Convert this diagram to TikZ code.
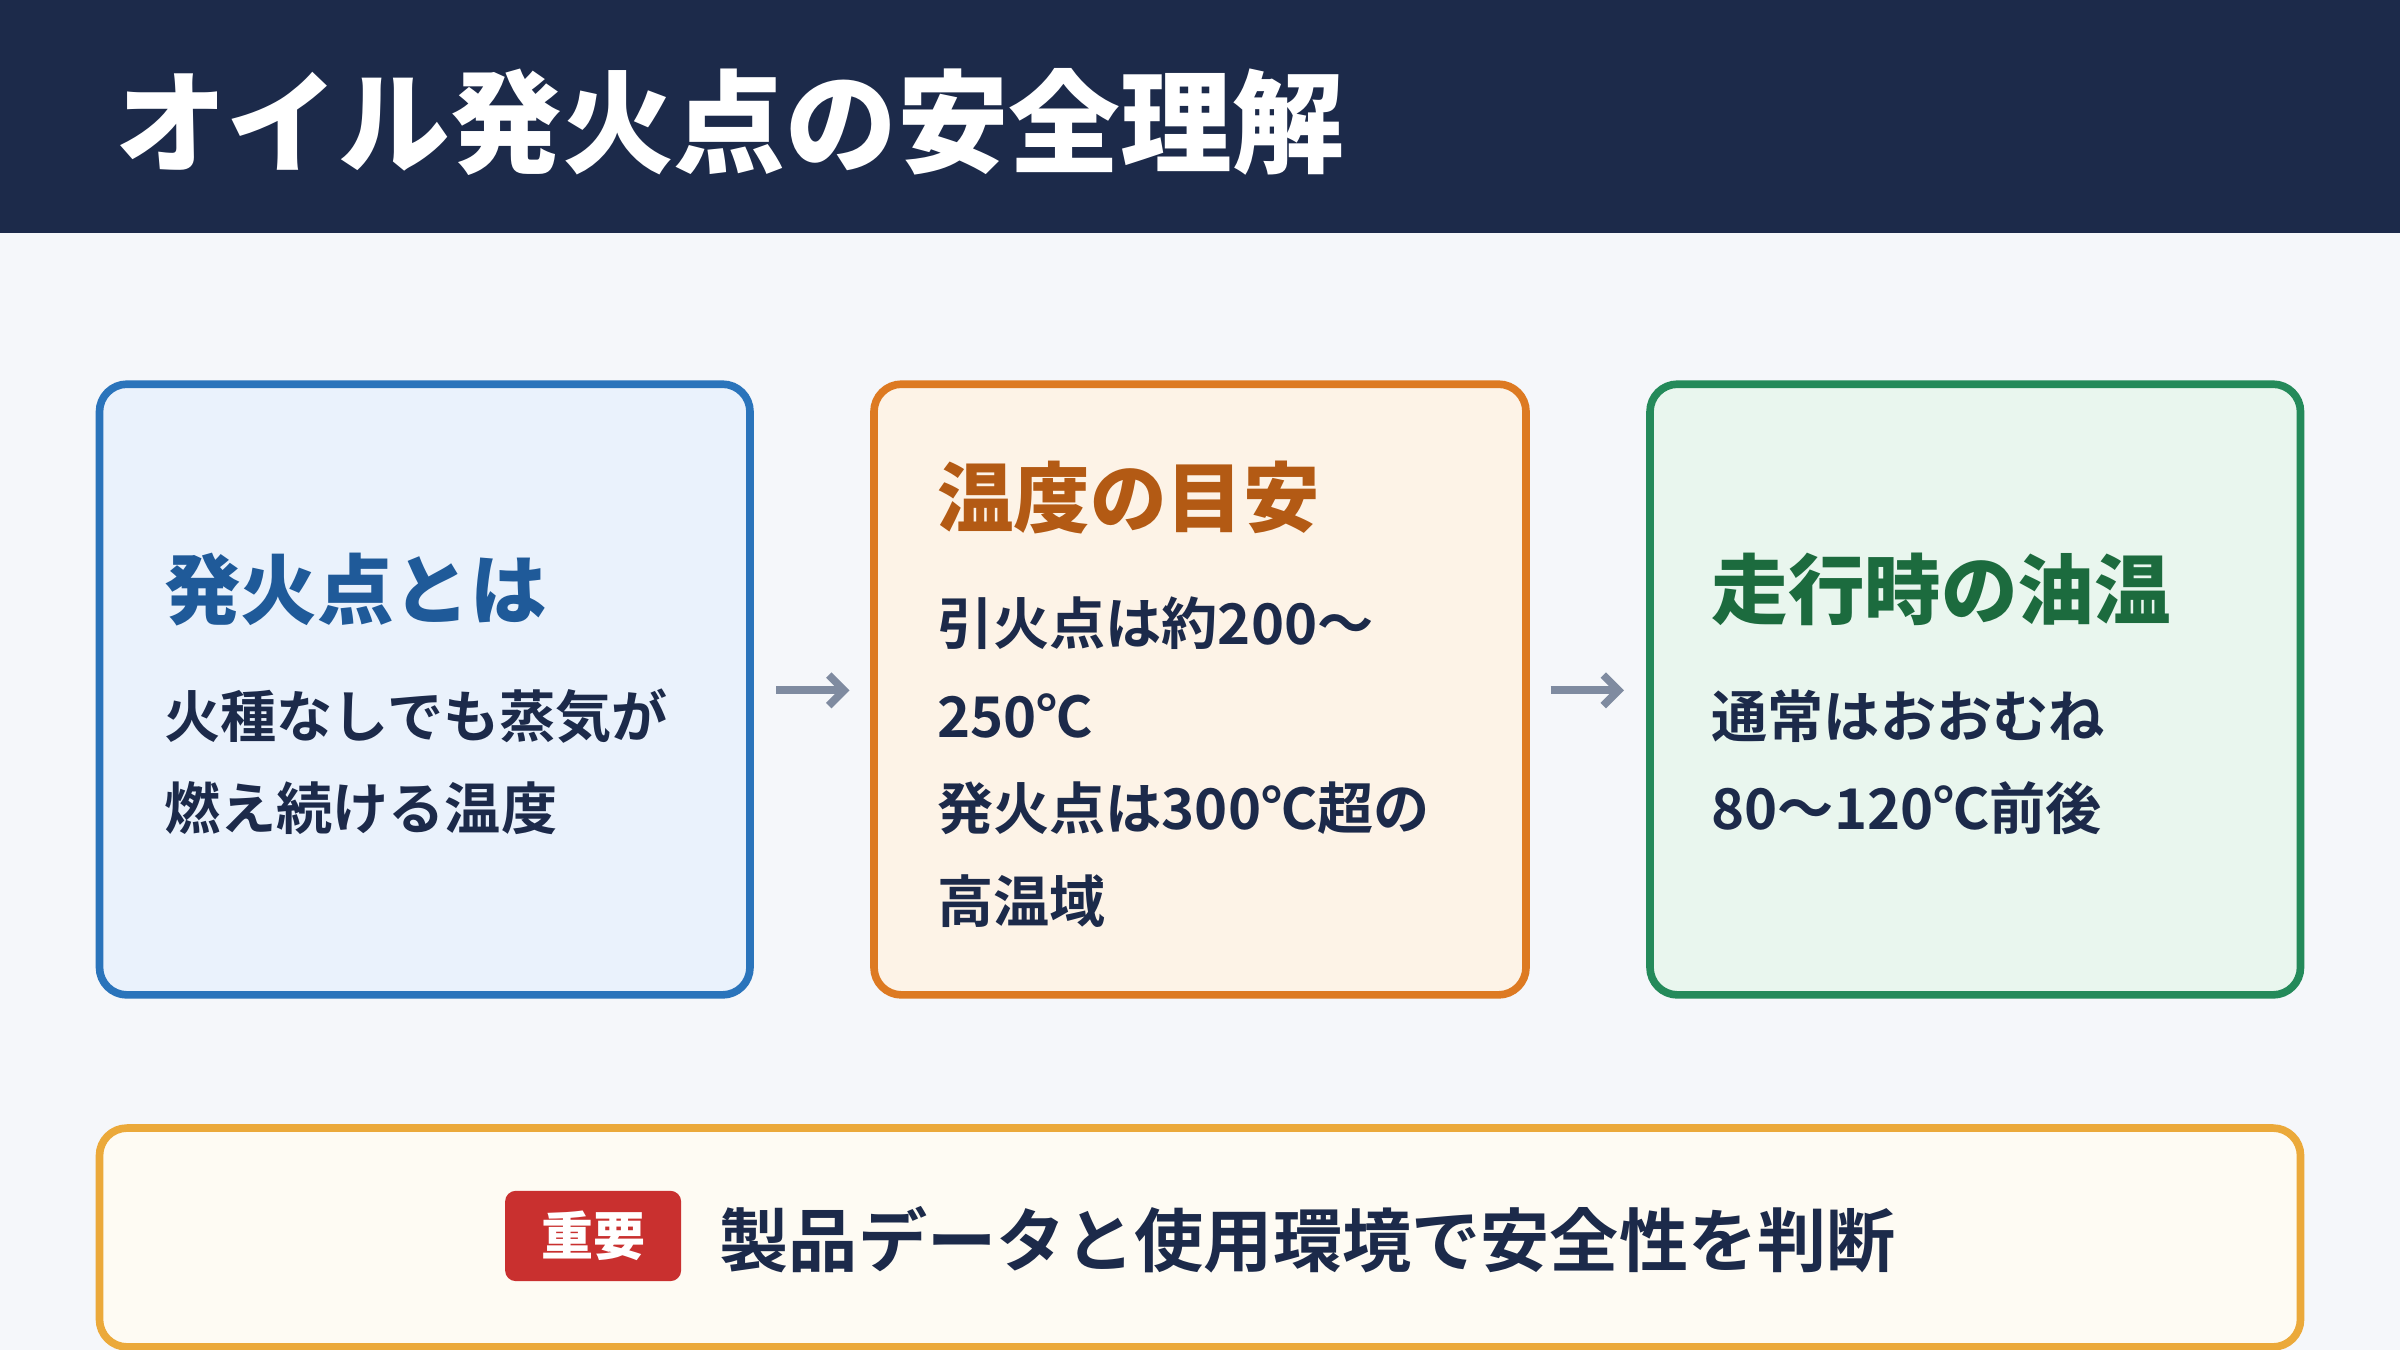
\documentclass[tikz,border=0pt]{standalone}
\usepackage{fontspec}
\setmainfont{Noto Sans CJK JP}[BoldFont={Noto Sans CJK JP Bold}]
\newfontfamily\blackfont{Noto Sans CJK JP Black}
\begin{document}
\begin{tikzpicture}[x=1pt,y=-1pt,
  box/.style={rounded corners=18pt,line width=5pt},
  head/.style={anchor=west,inner sep=0,font=\fontsize{50}{56}\blackfont},
  body/.style={anchor=west,inner sep=0,text=navy,font=\fontsize{36.7}{42}\selectfont\bfseries},
  arr/.style={line width=5pt,draw=arrgray,-{Straight Barb[length=10pt,width=20pt]}}]
\usetikzlibrary{arrows.meta}
\definecolor{navy}{HTML}{1C2A4A}
\definecolor{bg}{HTML}{F5F7FA}
\definecolor{arrgray}{HTML}{7F8BA0}
\useasboundingbox (0,0) rectangle (1568,882);
\fill[bg] (0,0) rectangle (1568,882);
\fill[navy] (0,0) rectangle (1568,152);
\node[anchor=west,inner sep=0,text=white,font=\fontsize{73}{80}\blackfont] (title) at (75,80) {オイル発火点の安全理解};
% boxes
\draw[box,draw={rgb,255:red,42;green,116;blue,187},fill={rgb,255:red,234;green,242;blue,252}] (65,251) rectangle (490,650);
\node[head,text={rgb,255:red,31;green,90;blue,153}] (h1) at (107,385) {発火点とは};
\node[body] (t11) at (107,468) {火種なしでも蒸気が};
\node[body] (t12) at (107,528) {燃え続ける温度};
\draw[box,draw={rgb,255:red,221;green,122;blue,34},fill={rgb,255:red,253;green,243;blue,231}] (571,251) rectangle (997,650);
\node[head,text={rgb,255:red,179;green,90;blue,20}] (h2) at (612,325) {温度の目安};
\node[body] (t21) at (612,407) {引火点は約200〜};
\node[body] (t22) at (612,468) {250℃};
\node[body] (t23) at (612,528) {発火点は300℃超の};
\node[body] (t24) at (612,589) {高温域};
\draw[box,draw={rgb,255:red,36;green,138;blue,90},fill={rgb,255:red,233;green,246;blue,238}] (1078,251) rectangle (1503,650);
\node[head,text={rgb,255:red,28;green,107;blue,62}] (h3) at (1118,385) {走行時の油温};
\node[body] (t31) at (1118,468) {通常はおおむね};
\node[body] (t32) at (1118,528) {80〜120℃前後};
% arrows
\coordinate (a1s) at (507,451); \coordinate (a1e) at (555,451);
\coordinate (a2s) at (1013,451); \coordinate (a2e) at (1061,451);
\draw[arr] (a1s) -- (a1e);
\draw[arr] (a2s) -- (a2e);
% bottom
\draw[box,draw={rgb,255:red,235;green,169;blue,58},fill={rgb,255:red,254;green,251;blue,243}] (65,737) rectangle (1503,880);
\node[fill={rgb,255:red,201;green,48;blue,47},rounded corners=7pt,minimum width=115pt,minimum height=59pt,text=white,font=\fontsize{34}{38}\blackfont] (badge) at (387.5,807.5) {重要};
\node[anchor=west,inner sep=0,text=navy,font=\fontsize{45.2}{50}\selectfont\bfseries] (imp) at (470,810) {製品データと使用環境で安全性を判断};
\end{tikzpicture}
\end{document}
